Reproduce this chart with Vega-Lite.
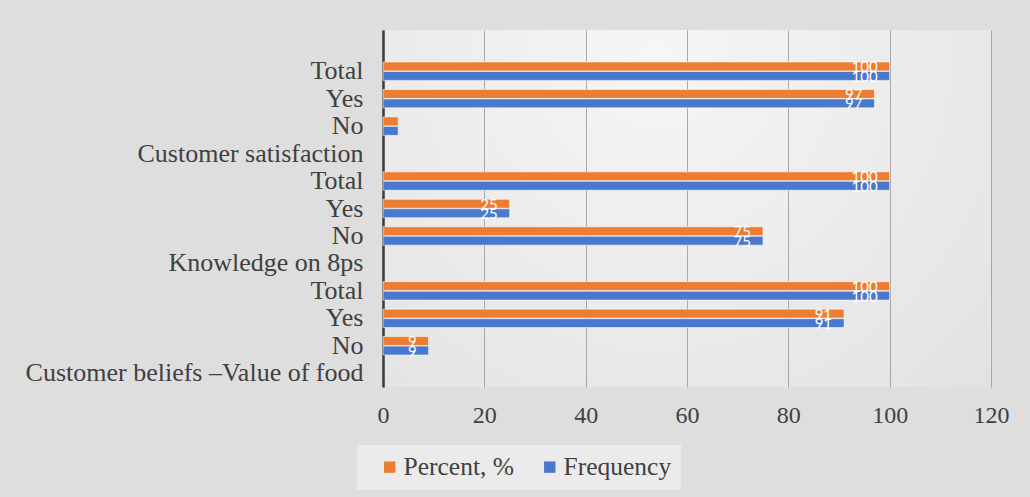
{
  "$schema": "https://vega.github.io/schema/vega-lite/v6.json",
  "autosize": "none",
  "width": 608,
  "height": 357,
  "padding": {"left": 383, "top": 30, "right": 39, "bottom": 110},
  "background": "#dedede",
  "config": {
    "view": {
      "stroke": null,
      "fill": {
        "gradient": "radial",
        "x1": 0.45, "y1": 0.25, "r1": 0,
        "x2": 0.45, "y2": 0.25, "r2": 0.85,
        "stops": [
          {"offset": 0, "color": "#f6f6f6"},
          {"offset": 1, "color": "#e0e0e0"}
        ]
      }
    }
  },
  "data": {
    "values": [
      {"item": "Total|1", "series": "Percent, %", "value": 100},
      {"item": "Total|1", "series": "Frequency", "value": 100},
      {"item": "Yes|1", "series": "Percent, %", "value": 97},
      {"item": "Yes|1", "series": "Frequency", "value": 97},
      {"item": "No|1", "series": "Percent, %", "value": 3},
      {"item": "No|1", "series": "Frequency", "value": 3},
      {"item": "Total|2", "series": "Percent, %", "value": 100},
      {"item": "Total|2", "series": "Frequency", "value": 100},
      {"item": "Yes|2", "series": "Percent, %", "value": 25},
      {"item": "Yes|2", "series": "Frequency", "value": 25},
      {"item": "No|2", "series": "Percent, %", "value": 75},
      {"item": "No|2", "series": "Frequency", "value": 75},
      {"item": "Total|3", "series": "Percent, %", "value": 100},
      {"item": "Total|3", "series": "Frequency", "value": 100},
      {"item": "Yes|3", "series": "Percent, %", "value": 91},
      {"item": "Yes|3", "series": "Frequency", "value": 91},
      {"item": "No|3", "series": "Percent, %", "value": 9},
      {"item": "No|3", "series": "Frequency", "value": 9}
    ]
  },
  "encoding": {
    "y": {
      "field": "item",
      "type": "nominal",
      "scale": {
        "domain": [" |0", "Total|1", "Yes|1", "No|1", "Customer satisfaction|1", "Total|2", "Yes|2", "No|2", "Knowledge on 8ps|2", "Total|3", "Yes|3", "No|3", "Customer beliefs –Value of food|3"],
        "paddingInner": 0.33,
        "paddingOuter": 0.165
      },
      "axis": {
        "title": null,
        "labelExpr": "split(datum.value, '|')[0]",
        "labelFont": "Liberation Serif",
        "labelFontSize": 26,
        "labelColor": "#404040",
        "labelPadding": 20,
        "labelLimit": 400,
        "ticks": false,
        "grid": false,
        "domainColor": "#3a3a3a",
        "domainWidth": 2.5
      }
    },
    "yOffset": {
      "field": "series",
      "type": "nominal",
      "scale": {"domain": ["Percent, %", "Frequency"], "paddingInner": 0.06}
    },
    "x": {
      "field": "value",
      "type": "quantitative",
      "scale": {"domain": [0, 120], "nice": false},
      "axis": {
        "title": null,
        "values": [0, 20, 40, 60, 80, 100, 120],
        "labelFont": "Liberation Serif",
        "labelFontSize": 24,
        "labelColor": "#404040",
        "labelPadding": 16,
        "labelFlush": false,
        "domain": false,
        "ticks": false,
        "grid": true,
        "gridColor": "#a8a8a8",
        "gridWidth": 1
      }
    }
  },
  "layer": [
    {
      "mark": {"type": "bar", "stroke": "#ffffff", "strokeWidth": 0.8, "strokeOpacity": 0.7},
      "encoding": {
        "color": {
          "field": "series",
          "type": "nominal",
          "scale": {"domain": ["Percent, %", "Frequency"], "range": ["#ED7D31", "#4A78CC"]},
          "legend": {
            "title": null,
            "orient": "none",
            "direction": "horizontal",
            "legendX": -26,
            "legendY": 415,
            "fillColor": "#ebebeb",
            "padding": 9,
            "symbolType": "square",
            "symbolSize": 130,
            "symbolStrokeWidth": 0,
            "symbolOffset": 11,
            "labelFont": "Liberation Serif",
            "labelFontSize": 25.5,
            "labelColor": "#404040",
            "labelOffset": 1,
            "columnPadding": 12
          }
        }
      }
    },
    {
      "transform": [{"filter": "datum.value >= 5"}],
      "mark": {"type": "text", "align": "right", "baseline": "middle", "dx": -12, "dy": 1, "color": "#ffffff", "font": "Lato", "fontSize": 15},
      "encoding": {
        "text": {"field": "value", "type": "quantitative"}
      }
    }
  ]
}
